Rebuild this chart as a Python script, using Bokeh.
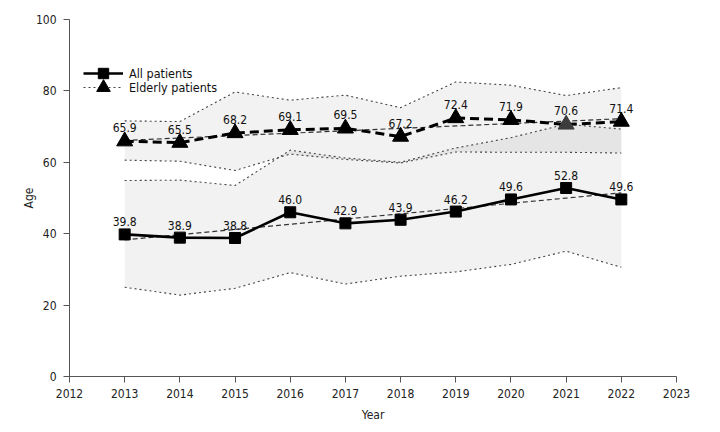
import numpy as np
from bokeh.plotting import figure
from bokeh.models import Range1d, FixedTicker, Legend, LegendItem, ColumnDataSource
from bokeh.core.properties import value
from bokeh.embed import file_html
from bokeh.resources import INLINE

# ---- data ----
years = [2013, 2014, 2015, 2016, 2017, 2018, 2019, 2020, 2021, 2022]
all_mean = [39.8, 38.9, 38.8, 46.0, 42.9, 43.9, 46.2, 49.6, 52.8, 49.6]
all_lower = [25.0, 22.8, 24.7, 29.1, 25.9, 28.1, 29.3, 31.4, 35.1, 30.6]
all_upper = [54.9, 55.0, 53.5, 63.4, 61.2, 60.0, 64.0, 66.9, 70.7, 69.3]
eld_mean = [65.9, 65.5, 68.2, 69.1, 69.5, 67.2, 72.4, 71.9, 70.6, 71.4]
eld_lower = [60.6, 60.3, 57.7, 62.3, 60.8, 59.8, 62.9, 62.8, 62.8, 62.6]
eld_upper = [71.6, 71.4, 79.7, 77.4, 78.8, 75.3, 82.5, 81.6, 78.7, 80.9]
x_ticks = list(range(2012, 2024))
y_ticks = [0, 20, 40, 60, 80, 100]
series_names = ["All patients", "Elderly patients"]

FONT = "DejaVu Sans Condensed"

BL, BR, BT, BB = 69, 28, 19, 47
W, H = 704, 424

p = figure(width=W, height=H, output_backend="svg", toolbar_location=None,
           x_range=Range1d(2012, 2023), y_range=Range1d(0, 100),
           min_border_left=BL, min_border_right=BR, min_border_top=BT, min_border_bottom=BB)
p.outline_line_color = None
p.xgrid.grid_line_color = None
p.ygrid.grid_line_color = None

# bands
for lo, hi in [(all_lower, all_upper), (eld_lower, eld_upper)]:
    p.varea(x=years, y1=lo, y2=hi, fill_color="black", fill_alpha=0.05)

band_lines = []
for arr in [all_lower, all_upper, eld_lower, eld_upper]:
    r = p.line(years, arr, line_color="#444444", line_width=1.1, line_dash="2 3")
    band_lines.append(r)

# trend lines (least squares fit)
yrs = np.array(years, dtype=float)
for arr in [all_mean, eld_mean]:
    k, b = np.polyfit(yrs, np.array(arr), 1)
    p.line(years, list(k * yrs + b), line_color="#333333", line_width=1.2, line_dash="5 3")

# main series
all_line = p.line(years, all_mean, line_color="black", line_width=2.6)
all_pts = p.scatter(years, all_mean, marker="square", size=11, fill_color="black", line_color="black")
eld_line = p.line(years, eld_mean, line_color="black", line_width=3, line_dash="9 5")
tri_colors = ["black"] * len(years)
tri_colors[years.index(2021)] = "#3c3c3c"
eld_src = ColumnDataSource(dict(x=years, y=eld_mean, c=tri_colors))
eld_pts = p.scatter("x", "y", source=eld_src, marker="triangle", size=16, fill_color="c", line_color="c")

# value labels
for arr, off in [(all_mean, -8), (eld_mean, -9)]:
    p.text(x=years, y=arr, text=["%.1f" % v for v in arr], y_offset=off,
           text_align="center", text_baseline="bottom", text_font=value(FONT),
           text_font_size="12px", text_color="#111111")

# legends (two single-item legends so rows can sit close together)
frame_h = H - BT - BB
def make_legend(item, gh, center_from_top):
    top = center_from_top - gh / 2
    return Legend(items=[item], location=(14, int(round(frame_h - top - gh))),
                  glyph_width=40, glyph_height=gh, label_height=gh,
                  padding=0, margin=0, label_standoff=6,
                  label_text_font=FONT, label_text_font_size="12.5px",
                  label_text_color="#111111",
                  border_line_alpha=0, background_fill_alpha=0)

p.add_layout(make_legend(LegendItem(label=series_names[0], renderers=[all_line, all_pts]), 26, 55))
p.add_layout(make_legend(LegendItem(label=series_names[1], renderers=[band_lines[3], eld_pts]), 34, 69))

for ax in [p.xaxis[0], p.yaxis[0]]:
    ax.axis_line_color = "#555555"
    ax.major_tick_line_color = "#555555"
    ax.minor_tick_line_color = None
    ax.major_tick_in = 0
    ax.major_tick_out = 6
    ax.major_label_text_font = FONT
    ax.major_label_text_font_size = "12px"
    ax.major_label_text_color = "#222222"
    ax.axis_label_text_font = FONT
    ax.axis_label_text_font_size = "12px"
    ax.axis_label_text_font_style = "normal"
    ax.axis_label_text_color = "#222222"

p.xaxis.ticker = FixedTicker(ticks=x_ticks)
p.yaxis.ticker = FixedTicker(ticks=y_ticks)
p.xaxis.axis_label = "Year"
p.yaxis.axis_label = "Age"
p.xaxis.major_label_standoff = 6
p.yaxis.major_label_standoff = 7
p.xaxis.axis_label_standoff = 7
p.yaxis.axis_label_standoff = -3

open("out.html", "w").write(file_html(p, INLINE))
